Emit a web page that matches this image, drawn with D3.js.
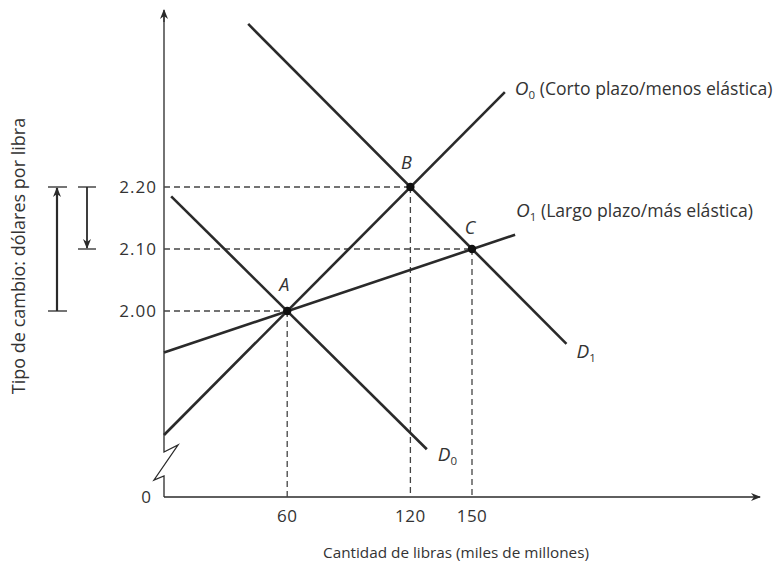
<!DOCTYPE html>
<html>
<head>
<meta charset="utf-8">
<script src="https://cdn.jsdelivr.net/npm/d3@7"></script>
<style>
  html, body { margin: 0; padding: 0; background: #fff; }
  svg { display: block; font-family: "Open Sans", Lato, "Noto Sans", sans-serif; }
</style>
</head>
<body>
<svg id="chart" width="781" height="564"></svg>
<script>
// ---- data ----
const xTicks = [60, 120, 150];
const yTicks = [2.00, 2.10, 2.20];
const yTickLabels = ["2.00", "2.10", "2.20"];
const curveNames = ["O0", "O1", "D0", "D1"];
const curveO0 = [[0, 1.80], [166, 2.353]];
const curveO1 = [[0, 1.933], [171, 2.123]];
const curveD0 = [[3.5, 2.185], [128, 1.777]];
const curveD1 = [[41, 2.463], [196, 1.947]];
const pointNames = ["A", "B", "C"];
const pointX = [60, 120, 150];
const pointY = [2.00, 2.20, 2.10];
const xTitle = "Cantidad de libras (miles de millones)";
const yTitle = "Tipo de cambio: dólares por libra";

// ---- scales ----
const x = d3.scaleLinear().domain([0, 150]).range([164, 472]);
const y = d3.scaleLinear().domain([1.70, 2.20]).range([497, 187]);

const svg = d3.select("#chart");
const ink = "#2a2a2a";
const textInk = "#333";

// arrow markers
const defs = svg.append("defs");
defs.append("marker").attr("id", "ah").attr("viewBox", "0 0 10 10")
  .attr("refX", 9).attr("refY", 5).attr("markerWidth", 10).attr("markerHeight", 10)
  .attr("markerUnits", "userSpaceOnUse").attr("orient", "auto")
  .append("path").attr("d", "M0,1 L10,5 L0,9 L3,5 Z").attr("fill", ink);

// ---- axes ----
const x0 = x(0), yBase = y(1.70);
const yTop = 10, xEnd = 760;
// y axis with break
svg.append("path")
  .attr("d", `M${x0},${yBase} L${x0},${yBase - 21} L${x0 - 10},${yBase - 17} L${x0 + 14},${yBase - 52} L${x0},${yBase - 45} L${x0},${yTop + 2}`)
  .attr("fill", "none").attr("stroke", ink).attr("stroke-width", 1.3).attr("stroke-linejoin", "miter");
svg.append("line").attr("x1", x0).attr("y1", yTop + 12).attr("x2", x0).attr("y2", yTop)
  .attr("stroke", ink).attr("stroke-width", 1.3).attr("marker-end", "url(#ah)");
// x axis
svg.append("line").attr("x1", x0).attr("y1", yBase).attr("x2", xEnd).attr("y2", yBase)
  .attr("stroke", ink).attr("stroke-width", 1.3).attr("marker-end", "url(#ah)");

// tick labels
svg.append("g").selectAll("text").data(xTicks).join("text")
  .attr("x", d => x(d)).attr("y", yBase + 25).attr("text-anchor", "middle")
  .attr("font-size", 17).attr("letter-spacing", 0.5).attr("fill", textInk).text(d => d);
svg.append("text").attr("x", x0 - 13).attr("y", yBase + 6).attr("text-anchor", "end")
  .attr("font-size", 17).attr("fill", textInk).text("0");
svg.append("g").selectAll("text").data(yTicks).join("text")
  .attr("x", x0 - 7).attr("y", d => y(d) + 6).attr("text-anchor", "end")
  .attr("font-size", 17).attr("letter-spacing", 1).attr("fill", textInk).text((d, i) => yTickLabels[i]);

// titles
svg.append("text").attr("x", 456).attr("y", 558).attr("text-anchor", "middle")
  .attr("font-size", 15.3).attr("fill", textInk).text(xTitle);
svg.append("text").attr("transform", `translate(25,${256}) rotate(-90)`).attr("text-anchor", "middle")
  .attr("font-size", 18).attr("fill", textInk).text(yTitle);

// ---- dashed guides ----
const guides = svg.append("g").attr("stroke", "#444").attr("stroke-width", 1.3)
  .attr("stroke-dasharray", "6,4").attr("fill", "none");
pointX.forEach((px, i) => {
  guides.append("line").attr("x1", x0).attr("y1", y(pointY[i])).attr("x2", x(px)).attr("y2", y(pointY[i]));
  guides.append("line").attr("x1", x(px)).attr("y1", y(pointY[i])).attr("x2", x(px)).attr("y2", yBase);
});

// ---- curves ----
const line = d3.line().x(d => x(d[0])).y(d => y(d[1]));
const curves = [curveO0, curveO1, curveD0, curveD1];
svg.append("g").selectAll("path").data(curves).join("path")
  .attr("d", line).attr("fill", "none").attr("stroke", ink).attr("stroke-width", 2.6);

// ---- points ----
svg.append("g").selectAll("circle").data(pointX).join("circle")
  .attr("cx", d => x(d)).attr("cy", (d, i) => y(pointY[i])).attr("r", 4.2).attr("fill", "#111");
const ptOff = [[-3, -20], [-4, -18], [-2, -15]];
svg.append("g").selectAll("text").data(pointNames).join("text")
  .attr("x", (d, i) => x(pointX[i]) + ptOff[i][0]).attr("y", (d, i) => y(pointY[i]) + ptOff[i][1])
  .attr("text-anchor", "middle").attr("font-size", 18).attr("font-style", "italic")
  .attr("fill", textInk).text(d => d);

// ---- curve labels ----
function curveLabel(pt, dx, dy, letter, sub, rest) {
  const t = svg.append("text").attr("x", x(pt[0]) + dx).attr("y", y(pt[1]) + dy)
    .attr("font-size", 17.6).attr("fill", textInk);
  t.append("tspan").attr("font-style", "italic").attr("font-size", 19).text(letter);
  t.append("tspan").attr("font-size", 11.5).attr("dy", 4).text(sub);
  if (rest) t.append("tspan").attr("dy", -4).text("\u00a0" + rest);
}
curveLabel(curveO0[1], 10, 3, "O", "0", "(Corto plazo/menos elástica)");
curveLabel(curveO1[1], 1, -18, "O", "1", "(Largo plazo/más elástica)");
curveLabel(curveD0[1], 11, 12, "D", "0", null);
curveLabel(curveD1[1], 10, 14, "D", "1", null);

// ---- left arrows ----
const la = svg.append("g").attr("stroke", ink);
la.append("line").attr("x1", 48).attr("x2", 67).attr("y1", y(2.20)).attr("y2", y(2.20)).attr("stroke-width", 1.3);
la.append("line").attr("x1", 48).attr("x2", 67).attr("y1", y(2.00)).attr("y2", y(2.00)).attr("stroke-width", 1.3);
la.append("line").attr("x1", 57).attr("x2", 57).attr("y1", y(2.00)).attr("y2", y(2.20) + 1)
  .attr("stroke-width", 2.2).attr("marker-end", "url(#ah)");
la.append("line").attr("x1", 78).attr("x2", 96).attr("y1", y(2.20)).attr("y2", y(2.20)).attr("stroke-width", 1.3);
la.append("line").attr("x1", 78).attr("x2", 96).attr("y1", y(2.10)).attr("y2", y(2.10)).attr("stroke-width", 1.3);
la.append("line").attr("x1", 87).attr("x2", 87).attr("y1", y(2.20)).attr("y2", y(2.10) - 1)
  .attr("stroke-width", 1.8).attr("marker-end", "url(#ah)");
</script>
</body>
</html>
